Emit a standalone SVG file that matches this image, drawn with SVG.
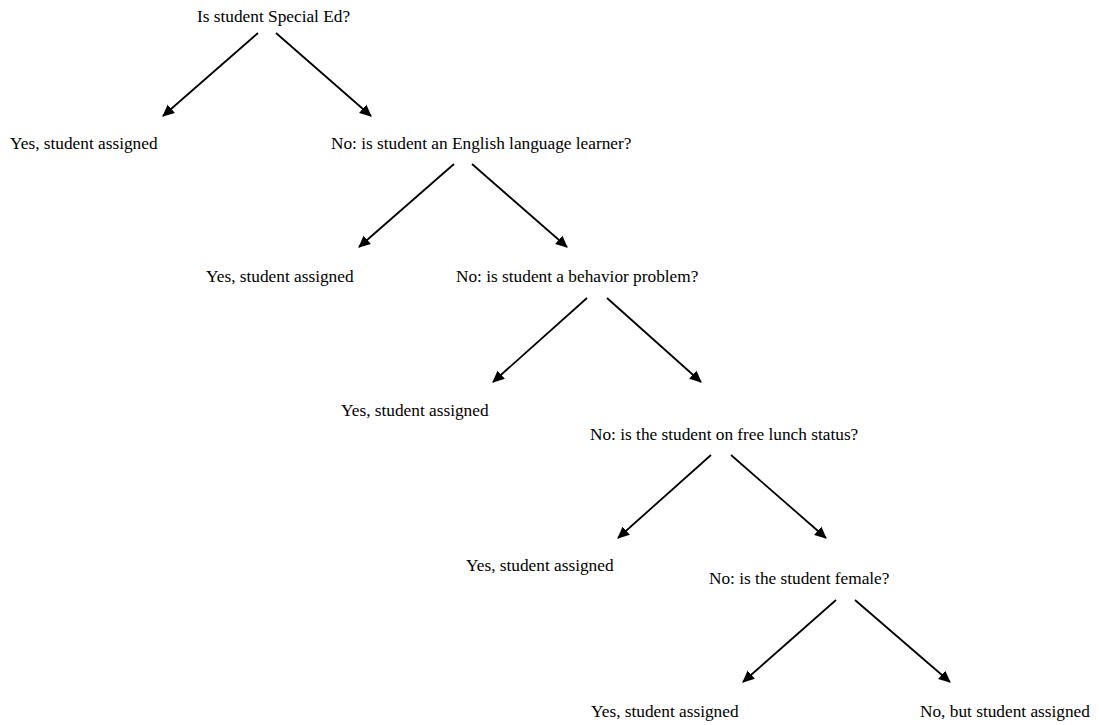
<svg xmlns="http://www.w3.org/2000/svg" width="1099" height="725" viewBox="0 0 1099 725">
<style>
text{font-family:"Liberation Serif","Times New Roman",serif;font-size:17.3px;fill:#000}
.c line{stroke:#000;stroke-width:1.8;marker-end:url(#a)}
</style>
<defs>
<marker id="a" markerWidth="12" markerHeight="12" refX="11" refY="6" orient="auto" markerUnits="userSpaceOnUse" viewBox="0 0 12 12">
<path d="M0,0.5 L12,6 L0,11.5 Z" fill="#000"/>
</marker>
</defs>
<rect width="1099" height="725" fill="#fff"/>
<g id="q1"><text x="197" y="22">Is student Special Ed?</text></g>
<g id="y1"><text x="10" y="149">Yes, student assigned</text></g>
<g id="q2"><text x="331" y="149">No: is student an English language learner?</text></g>
<g id="y2"><text x="206" y="282">Yes, student assigned</text></g>
<g id="q3"><text x="456" y="282">No: is student a behavior problem?</text></g>
<g id="y3"><text x="341" y="416">Yes, student assigned</text></g>
<g id="q4"><text x="590" y="440">No: is the student on free lunch status?</text></g>
<g id="y4"><text x="466" y="571">Yes, student assigned</text></g>
<g id="q5"><text x="709" y="584">No: is the student female?</text></g>
<g id="y5"><text x="591" y="717">Yes, student assigned</text></g>
<g id="n5"><text x="920" y="717">No, but student assigned</text></g>
<g class="c" id="connectors">
<line x1="258" y1="33" x2="163" y2="116"/>
<line x1="276" y1="33" x2="371" y2="116"/>
<line x1="454" y1="164" x2="359" y2="247"/>
<line x1="472" y1="164" x2="567" y2="247"/>
<line x1="587" y1="298" x2="493" y2="382"/>
<line x1="607" y1="298" x2="701" y2="382"/>
<line x1="711" y1="455" x2="618" y2="538"/>
<line x1="731" y1="455" x2="826" y2="538"/>
<line x1="836" y1="600" x2="743" y2="682"/>
<line x1="855" y1="600" x2="950" y2="682"/>
</g>
</svg>
